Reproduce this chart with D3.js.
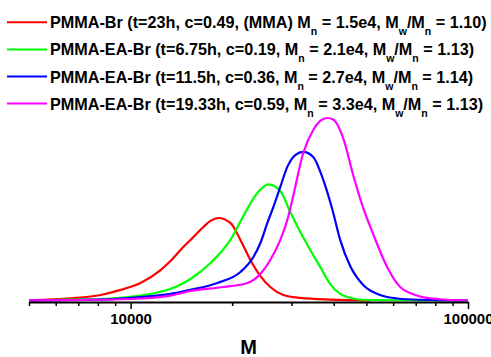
<!DOCTYPE html>
<html>
<head>
<meta charset="utf-8">
<script src="https://cdn.jsdelivr.net/npm/d3@7"></script>
<style>
  html, body { margin: 0; padding: 0; background: #fff; }
  svg { display: block; }
  text { font-family: "Liberation Sans", Arial, sans-serif; font-weight: bold; fill: #000; }
</style>
</head>
<body>
<div id="chart"></div>
<script>
// ---- data (molar mass M, normalized detector response) ----
const redM   = [5000, 6650, 8150, 9340, 10700, 12270, 13130, 14060, 15050, 16440, 17250, 18210, 19760, 21160, 22650, 24250, 25950, 28350, 31840, 39050, 51300];
const redV   = [0.001, 0.012, 0.030, 0.058, 0.096, 0.167, 0.216, 0.277, 0.332, 0.403, 0.436, 0.452, 0.425, 0.332, 0.222, 0.134, 0.074, 0.030, 0.014, 0.005, 0.001];

const greenM = [5000, 6650, 8150, 9340, 10700, 12270, 13590, 15050, 17250, 19760, 21590, 23750, 25600, 27780, 29740, 31840, 34080, 36480, 39050, 41800, 45670, 49580, 72120, 100000];
const greenV = [0.001, 0.005, 0.008, 0.015, 0.027, 0.048, 0.074, 0.118, 0.205, 0.332, 0.463, 0.589, 0.636, 0.600, 0.485, 0.375, 0.277, 0.184, 0.090, 0.036, 0.011, 0.004, 0.001, 0.000];

const blueM  = [5000, 8150, 10700, 13130, 15050, 18090, 21160, 23120, 24250, 25430, 26490, 27780, 29140, 30770, 32490, 34780, 36980, 39590, 41800, 44750, 48910, 54910, 61660, 72120, 100000];
const blueV  = [0.001, 0.005, 0.019, 0.036, 0.058, 0.096, 0.156, 0.238, 0.315, 0.425, 0.512, 0.622, 0.732, 0.797, 0.814, 0.786, 0.677, 0.501, 0.332, 0.189, 0.085, 0.030, 0.011, 0.004, 0.000];

const magM   = [5000, 8150, 10700, 13130, 15050, 18840, 22190, 24250, 25950, 27780, 29140, 30150, 32490, 34780, 36480, 38260, 39860, 42670, 45670, 48910, 52360, 57590, 62930, 67380, 72120, 82630, 100000];
const magV   = [0.001, 0.004, 0.011, 0.027, 0.052, 0.074, 0.096, 0.145, 0.222, 0.332, 0.441, 0.551, 0.808, 0.934, 0.984, 1.000, 0.992, 0.890, 0.688, 0.507, 0.364, 0.184, 0.074, 0.041, 0.022, 0.007, 0.000];

const seriesNames = ["PMMA-Br", "PMMA-EA-Br", "PMMA-EA-Br", "PMMA-EA-Br"];
const seriesT     = ["23h", "6.75h", "11.5h", "19.33h"];
const seriesC     = ["0.49", "0.19", "0.36", "0.59"];
const seriesExtra = ["(MMA) ", "", "", ""];
const seriesMn    = ["1.5e4", "2.1e4", "2.7e4", "3.3e4"];
const seriesPDI   = ["1.10", "1.13", "1.14", "1.13"];
const colors      = ["#ff0000", "#00ff00", "#0000ff", "#ff00ff"];

const xTicks      = [5000, 6000, 7000, 8000, 9000, 10000, 20000, 30000, 40000, 50000, 60000, 70000, 80000, 90000, 100000];
const xMajor      = [10000, 100000];
const xLabel      = "M";

// ---- chart ----
const W = 491, H = 357;
const svg = d3.select("#chart").append("svg").attr("width", W).attr("height", H);

const x = d3.scaleLog().domain([5000, 100000]).range([29, 468]);
const y = d3.scaleLinear().domain([0, 1]).range([300.5, 118]);

const series = [
  {M: redM, V: redV},
  {M: greenM, V: greenV},
  {M: blueM, V: blueV},
  {M: magM, V: magV}
];

const line = d3.line()
  .x(d => x(d[0]))
  .y(d => y(d[1]))
  .curve(d3.curveMonotoneX);

series.forEach((s, i) => {
  const pts = s.M.map((m, j) => [m, s.V[j]]);
  svg.append("path")
    .datum(pts)
    .attr("d", line)
    .attr("fill", "none")
    .attr("stroke", colors[i])
    .attr("stroke-width", 2.2);
});

// x axis
const axis = d3.axisBottom(x)
  .tickValues(xTicks)
  .tickSizeInner(4)
  .tickSizeOuter(0)
  .tickFormat(d => xMajor.includes(d) ? d3.format("d")(d) : "");

const gx = svg.append("g").attr("transform", "translate(0,302)").call(axis);
gx.select(".domain").attr("stroke", "#000").attr("stroke-width", 2);
gx.selectAll(".tick line").attr("stroke", "#000").attr("stroke-width", 1.5)
  .attr("y2", d => xMajor.includes(d) ? 7 : 4);
gx.selectAll(".tick text")
  .attr("y", 22).attr("dy", 0)
  .style("font-family", "'Liberation Sans', Arial, sans-serif")
  .style("font-weight", "bold")
  .style("font-size", "15px")
  .attr("fill", "#000");

svg.append("text")
  .attr("x", (29 + 468) / 2).attr("y", 354)
  .attr("text-anchor", "middle")
  .style("font-size", "20px")
  .text(xLabel);

// legend
const legY0 = 28.3, legDY = 27.1;
series.forEach((s, i) => {
  const by = legY0 + i * legDY;
  svg.append("line")
    .attr("x1", 7).attr("x2", 47)
    .attr("y1", by - 6).attr("y2", by - 6)
    .attr("stroke", colors[i]).attr("stroke-width", 2);
  const t = svg.append("text").attr("x", 50).attr("y", by).style("font-size", "16.2px");
  const sub = 7;
  t.append("tspan").text(`${seriesNames[i]} (t=${seriesT[i]}, c=${seriesC[i]}, ${seriesExtra[i]}M`);
  t.append("tspan").attr("dy", sub).style("font-size", "10.5px").text("n");
  t.append("tspan").attr("dy", -sub).text(` = ${seriesMn[i]}, M`);
  t.append("tspan").attr("dy", sub).style("font-size", "10.5px").text("w");
  t.append("tspan").attr("dy", -sub).text("/M");
  t.append("tspan").attr("dy", sub).style("font-size", "10.5px").text("n");
  t.append("tspan").attr("dy", -sub).text(` = ${seriesPDI[i]})`);
});
</script>
</body>
</html>
